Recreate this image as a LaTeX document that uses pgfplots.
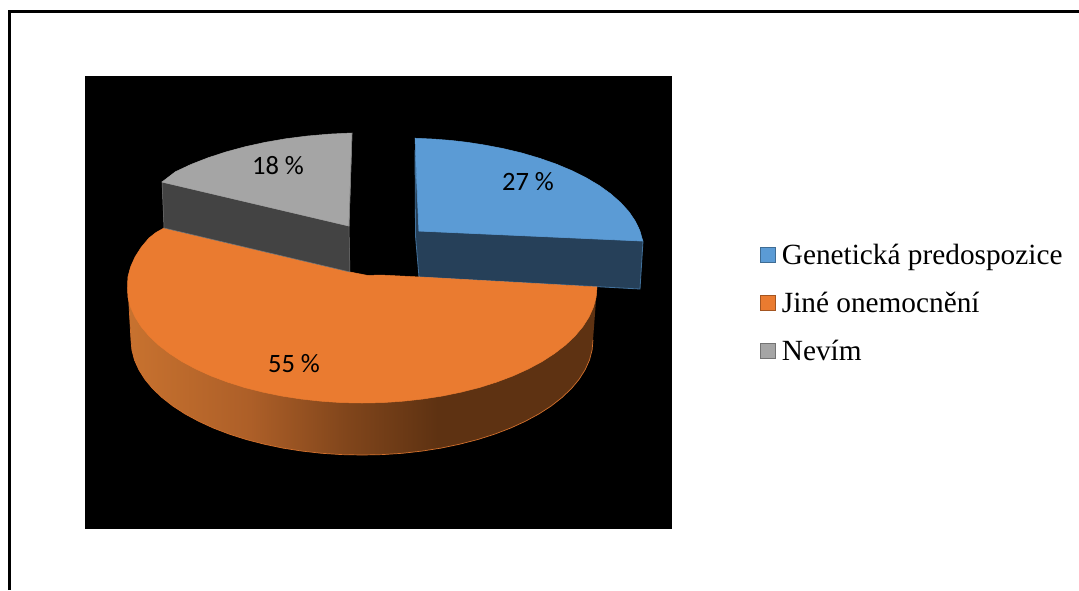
\documentclass[border=0pt]{standalone}
\usepackage{fontspec}
\usepackage{pgfplots}
\pgfplotsset{compat=1.18}
\setmainfont{Liberation Serif}
\newfontfamily\labelfont{Carlito}

\definecolor{sliceblue}{HTML}{5B9BD5}
\definecolor{sliceblueside}{HTML}{264059}
\definecolor{sliceblueedge}{HTML}{41719C}
\definecolor{sliceorange}{HTML}{EA7B30}
\definecolor{sliceorangeedge}{HTML}{D2702C}
\definecolor{slicegrey}{HTML}{A5A5A5}
\definecolor{slicegreyside}{HTML}{434343}
\definecolor{slicegreyedge}{HTML}{7C7C7C}
\definecolor{rimA}{HTML}{C8722F}
\definecolor{rimB}{HTML}{AD5F28}
\definecolor{rimC}{HTML}{80451B}
\definecolor{rimD}{HTML}{5E3212}

% Rim of the large slice: lit on the left, dark from the middle onwards
\pgfdeclarehorizontalshading{orangerim}{100bp}{
  color(0bp)=(rimA); color(25bp)=(rimA); color(38bp)=(rimB);
  color(48.5bp)=(rimC); color(58bp)=(rimD); color(100bp)=(rimD)}

\begin{document}
\begin{tikzpicture}
\useasboundingbox (0,0) rectangle (1079pt,590pt);
\begin{axis}[
  at={(0,0)}, anchor=south west,
  scale only axis, width=1079pt, height=590pt,
  xmin=0, xmax=1079, ymin=0, ymax=590, y dir=reverse,
  axis lines=none, clip=true,
  legend cell align=left,
  legend image code/.code={
    \draw[#1, line width=0.8pt] (0pt,-7.5pt) rectangle (15pt,7.5pt);
    \draw[fill=none, draw=black, draw opacity=0.3, line width=0.8pt] (0pt,-7.5pt) rectangle (15pt,7.5pt);
    \path (17pt,0pt);
  },
  legend style={
    draw=none, fill=none, at={(axis cs:760,244)}, anchor=north west,
    font=\fontsize{29.3}{33}\selectfont, row sep=26pt,
    inner xsep=0pt, inner ysep=0pt,
    nodes={inner xsep=4pt, inner ysep=0pt},
  },
]
% page frame, open at the right and bottom
\addplot[black, line width=3pt, forget plot] coordinates {(9.5,590) (9.5,11.3) (1079,11.3)};

% plot background
\addplot[fill=black, draw=none, forget plot] coordinates {(85,76) (672,76) (672,529) (85,529)} -- cycle;

% blue slice: side, then top
\addplot[fill=sliceblueside, draw=sliceblueedge, line width=0.8pt, forget plot]
  coordinates {(415,150) (419,231) (643,241) (640,289) (419,277) (415.5,236)} -- cycle;
\addplot[fill=sliceblue, draw=sliceblue, line width=0.5pt]
  coordinates {(415,138.2) (433.9,139.1) (450.6,140.4) (467.1,142.3) (483.3,144.8) (502.9,148.5)
    (521.8,153) (539.7,158.3) (556.5,164.2) (572.2,170.8) (586.5,178) (599.5,185.7) (610.9,194)
    (620.7,202.7) (628.9,211.7) (635.2,221) (639.8,230.5) (642.8,241) (419,231)} -- cycle;
\addlegendentry{Genetická predospozice}

% orange slice: shaded rim, then top
\addplot[shade, shading=orangerim, draw=none, forget plot]
  coordinates {(128,287) (131,340) (131.9,350) (134.5,360) (138.9,369.8) (144.9,379.3) (152.6,388.6)
    (162,397.5) (172.8,406) (185,413.9) (198.7,421.3) (213.5,428.1) (229.5,434.2) (246.5,439.6)
    (264.4,444.2) (283,448.1) (302.2,451.1) (321.9,453.3) (341.9,454.6) (362,455) (382.1,454.6)
    (402.1,453.3) (421.8,451.1) (441,448.1) (459.6,444.2) (477.5,439.6) (494.5,434.2) (510.5,428.1)
    (525.3,421.3) (539,413.9) (551.2,406) (562,397.5) (571.4,388.6) (579.1,379.3) (585.1,369.8)
    (589.5,360) (592.1,350) (593,340) (597,287)} -- cycle;
\addplot[sliceorangeedge, line width=0.7pt, forget plot]
  coordinates {(128,287) (131,340) (131.9,350) (134.5,360) (138.9,369.8) (144.9,379.3) (152.6,388.6)
    (162,397.5) (172.8,406) (185,413.9) (198.7,421.3) (213.5,428.1) (229.5,434.2) (246.5,439.6)
    (264.4,444.2) (283,448.1) (302.2,451.1) (321.9,453.3) (341.9,454.6) (362,455) (382.1,454.6)
    (402.1,453.3) (421.8,451.1) (441,448.1) (459.6,444.2) (477.5,439.6) (494.5,434.2) (510.5,428.1)
    (525.3,421.3) (539,413.9) (551.2,406) (562,397.5) (571.4,388.6) (579.1,379.3) (585.1,369.8)
    (589.5,360) (592.1,350) (593,340)};
\addplot[fill=sliceorange, draw=sliceorange, line width=0.5pt]
  coordinates {(164,228) (350,272) (368,275.5) (380,275) (420,277) (597,287) (596.1,297.1) (593.4,307.1)
    (589,317) (582.8,326.7) (575,336) (565.5,345) (554.5,353.5) (542,361.6) (528.2,369) (513,375.9)
    (496.8,382) (479.5,387.5) (461.3,392.1) (442.4,396) (422.8,399) (402.8,401.2) (382.5,402.6)
    (362,403) (341.5,402.6) (321.2,401.2) (301.2,399) (281.6,396) (262.7,392.1) (244.5,387.5)
    (227.2,382) (211,375.9) (195.8,369) (182,361.6) (169.5,353.5) (158.5,345) (149,336) (141.2,326.7)
    (135,317) (130.6,307.1) (127.9,297.1) (127.5,287) (127.9,276.9) (130.6,266.9) (135,257)
    (141.2,247.3) (149,238) (156,232.5)} -- cycle;
\addlegendentry{Jiné onemocnění}

% grey slice: side, then top
\addplot[fill=slicegreyside, draw=slicegreyedge, line width=0.5pt, forget plot]
  coordinates {(162,182) (349,226) (350,272) (164,228)} -- cycle;
\addplot[fill=slicegrey, draw=slicegrey, line width=0.5pt]
  coordinates {(162,182) (175.5,171.7) (191.1,164.4) (208,157.8) (226.1,151.9) (245.3,146.7)
    (265.4,142.3) (286.2,138.7) (307.6,136) (329.5,134.1) (352,133) (349,226)} -- cycle;
\addlegendentry{Nevím}
\addplot[slicegreyedge, line width=0.6pt, forget plot] coordinates {(352,133) (349,226)};

% value labels
\node[font=\labelfont\fontsize{26.5}{28}\selectfont, inner sep=0pt] at (axis cs:278,166) {18 \%};
\node[font=\labelfont\fontsize{26.5}{28}\selectfont, inner sep=0pt] at (axis cs:528,182) {27 \%};
\node[font=\labelfont\fontsize{26.5}{28}\selectfont, inner sep=0pt] at (axis cs:294,364) {55 \%};
\end{axis}
\end{tikzpicture}
\end{document}
